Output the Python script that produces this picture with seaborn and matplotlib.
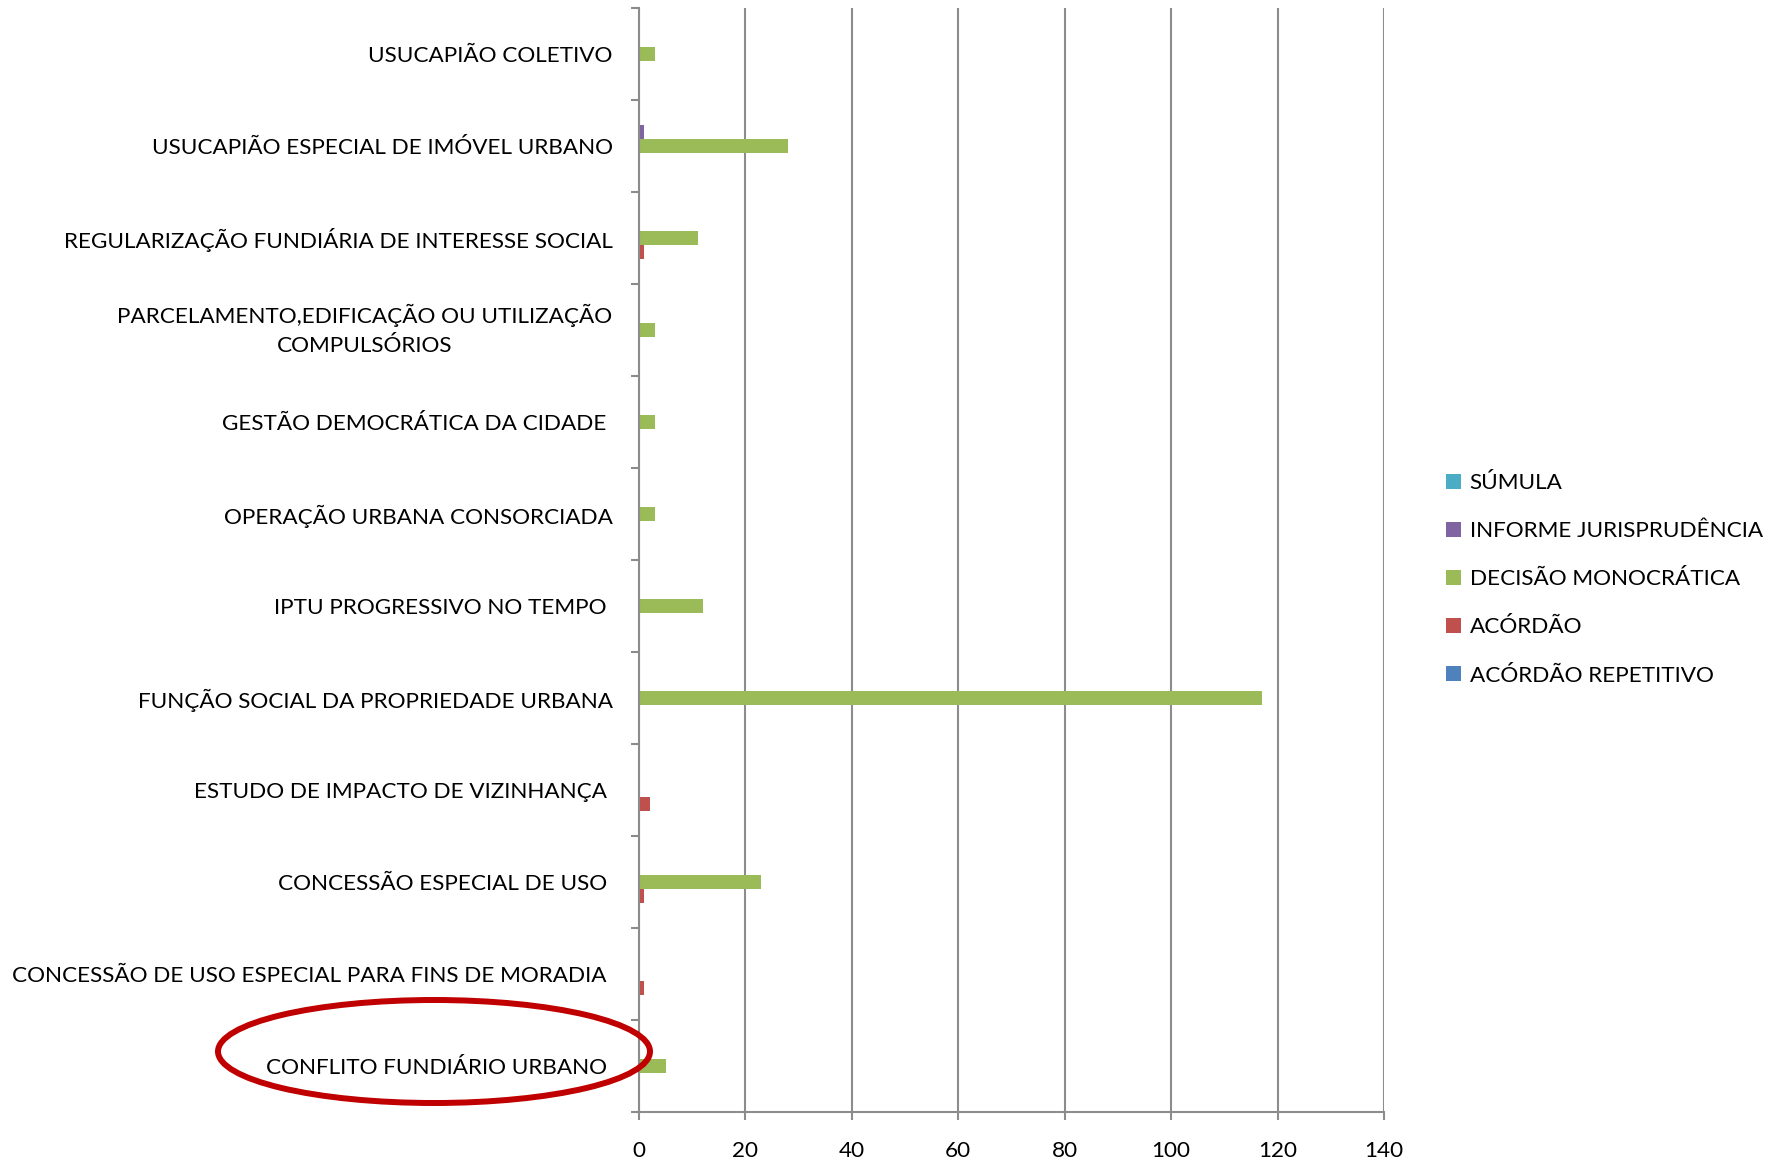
import matplotlib
matplotlib.use("Agg")
import matplotlib.pyplot as plt
from matplotlib.patches import Ellipse, Patch
import seaborn as sns
import pandas as pd
import numpy as np

# categorias (de cima para baixo)
temas = [
    "USUCAPIÃO COLETIVO",
    "USUCAPIÃO ESPECIAL DE IMÓVEL URBANO",
    "REGULARIZAÇÃO FUNDIÁRIA DE INTERESSE SOCIAL",
    "PARCELAMENTO,EDIFICAÇÃO OU UTILIZAÇÃO\nCOMPULSÓRIOS",
    "GESTÃO DEMOCRÁTICA DA CIDADE ",
    "OPERAÇÃO URBANA CONSORCIADA",
    "IPTU PROGRESSIVO NO TEMPO ",
    "FUNÇÃO SOCIAL DA PROPRIEDADE URBANA",
    "ESTUDO DE IMPACTO DE VIZINHANÇA ",
    "CONCESSÃO ESPECIAL DE USO ",
    "CONCESSÃO DE USO ESPECIAL PARA FINS DE MORADIA ",
    "CONFLITO FUNDIÁRIO URBANO ",
]

sumula = [0, 0, 0, 0, 0, 0, 0, 0, 0, 0, 0, 0]
informe = [0, 1, 0, 0, 0, 0, 0, 0, 0, 0, 0, 0]
decisao = [3, 28, 11, 3, 3, 3, 12, 117, 0, 23, 0, 5]
acordao = [0, 0, 1, 0, 0, 0, 0, 0, 2, 1, 1, 0]
acordao_rep = [0, 0, 0, 0, 0, 0, 0, 0, 0, 0, 0, 0]

series = ["SÚMULA", "INFORME JURISPRUDÊNCIA", "DECISÃO MONOCRÁTICA",
          "ACÓRDÃO", "ACÓRDÃO REPETITIVO"]
cores = ["#4BACC6", "#8064A2", "#9BBB59", "#C0504D", "#4F81BD"]

df = pd.DataFrame({"tema": temas, series[0]: sumula, series[1]: informe,
                   series[2]: decisao, series[3]: acordao, series[4]: acordao_rep})
df = df.melt(id_vars="tema", var_name="tipo", value_name="valor")

plt.rcParams["font.family"] = ["Lato", "DejaVu Sans"]
fs = 16.2
cinza = "#8C8C8C"

fig = plt.figure(figsize=(17.86, 11.59), dpi=100)
ax = fig.add_axes([639 / 1786, 1 - 1112 / 1159, 745 / 1786, 1104 / 1159])

sns.barplot(data=df, x="valor", y="tema", hue="tipo", order=temas,
            hue_order=series, palette=cores, orient="h", width=0.76,
            errorbar=None, saturation=1, legend=False, linewidth=0, ax=ax)

ax.set_xlim(0, 140)
ax.set_ylim(11.5, -0.5)
ax.set_xticks(range(0, 141, 20))
ax.set_xlabel("")
ax.set_ylabel("")
ax.set_axisbelow(True)
ax.xaxis.grid(True, color=cinza, linewidth=1.5)
ax.yaxis.grid(False)
for s in ["top", "right"]:
    ax.spines[s].set_visible(False)
for s in ["left", "bottom"]:
    ax.spines[s].set_color(cinza)
    ax.spines[s].set_linewidth(1.5)

ax.set_yticks(np.arange(-0.5, 12, 1), minor=True)
ax.tick_params(axis="y", which="major", length=0, pad=19, labelsize=fs, labelcolor="black")
ax.tick_params(axis="y", which="minor", length=6, width=1.5, color=cinza)
ax.tick_params(axis="x", which="major", length=6, width=1.5, color=cinza, pad=15,
               labelsize=fs, labelcolor="black")
for lbl in ax.get_yticklabels():
    lbl.set_multialignment("center")
    if "\n" in lbl.get_text():
        lbl.set_linespacing(1.6)
        lbl.set_verticalalignment("center")

handles = [Patch(facecolor=c, edgecolor="none") for c in cores]
fig.legend(handles, series, loc="upper left", bbox_to_anchor=(1437 / 1786, 1 - 464 / 1159),
           frameon=False, fontsize=fs, handlelength=0.65, handleheight=0.65,
           handletextpad=0.4, labelspacing=1.25, borderaxespad=0)

fig.add_artist(Ellipse((434 / 1786, 1 - 1051.5 / 1159), 432 / 1786, 103 / 1159,
                       transform=fig.transFigure, fill=False,
                       edgecolor="#C00000", linewidth=4.3))

fig.savefig("out.png", dpi=100)
